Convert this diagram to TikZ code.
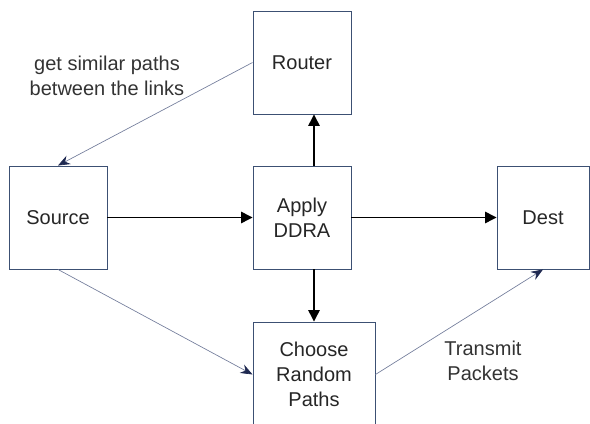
\documentclass[tikz,border=0pt]{standalone}
\usepackage{fontspec}
\setmainfont{Liberation Sans}
\usetikzlibrary{arrows.meta}
\definecolor{boxc}{RGB}{60,80,115}
\definecolor{thinc}{RGB}{115,125,155}
\definecolor{headc}{RGB}{30,40,80}
\begin{document}
\begin{tikzpicture}[x=0.75pt,y=-0.75pt,
  box/.style={draw=boxc,line width=0.7pt,fill=white,align=center,font=\fontsize{15}{19}\selectfont,text=black!85,inner sep=0pt,minimum width=#1*0.75pt},
  thick arrow/.style={draw=black,line width=1pt,-{Triangle[length=8.5pt,width=8.5pt]}},
  thin arrow/.style={draw=thinc,line width=0.5pt,-{Stealth[length=9pt,width=7pt,inset=3pt,color=headc]}},
  lbl/.style={align=center,font=\fontsize{15}{19}\selectfont,text=black!80}]
\useasboundingbox (0,0) rectangle (590,424);
\node[box=98,minimum height=77.25pt] (router) at (302,62.5) {Router};
\node[box=98,minimum height=77.25pt] (source) at (58,217.5) {Source};
\node[box=98,minimum height=77.25pt] (apply) at (302,217.5) {Apply\\DDRA};
\node[box=92,minimum height=77.25pt] (dest) at (543,217.5) {Dest};
\node[box=122,minimum height=78.75pt] (choose) at (314,374.5) {Choose\\Random\\Paths};
\draw[thin arrow] (router.west) -- (source.north);
\draw[thick arrow] (source.east) -- (apply.west);
\draw[thick arrow] (apply.north -| choose.center) -- (router.south -| choose.center);
\draw[thick arrow] (apply.east) -- (dest.west);
\draw[thick arrow] (apply.south -| choose.center) -- (choose.north);
\draw[thin arrow] (source.south) -- (choose.west);
\draw[thin arrow] (choose.east) -- (dest.south);
\node[lbl] (l1) at (107,76) {get similar paths\\between the links};
\node[lbl] (l2) at (483,361) {Transmit\\Packets};
\end{tikzpicture}
\end{document}
